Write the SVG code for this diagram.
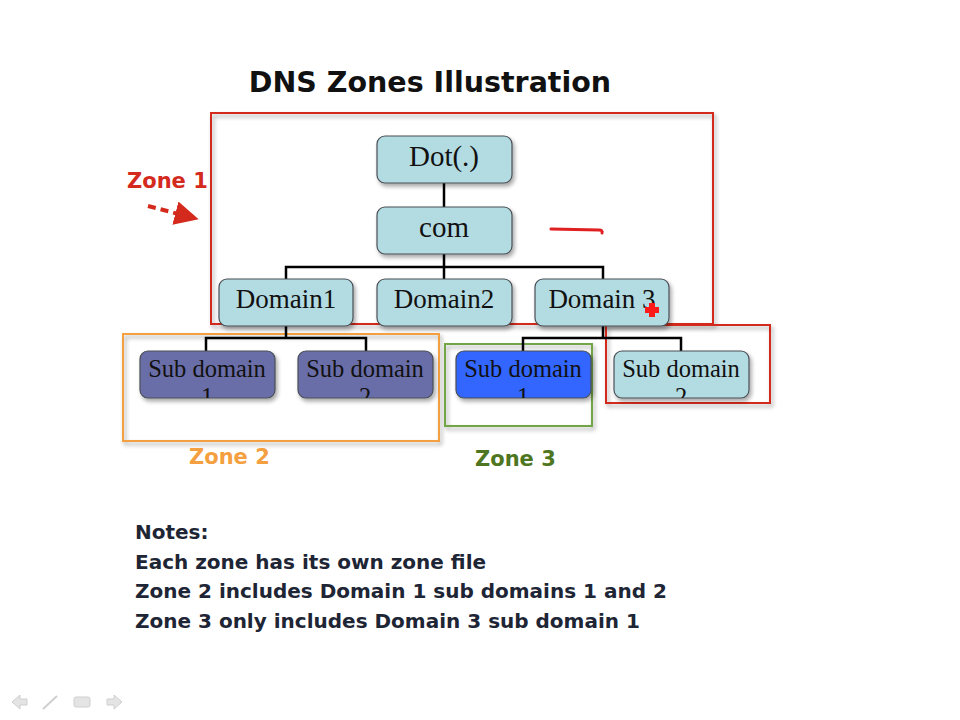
<svg xmlns="http://www.w3.org/2000/svg" width="960" height="720" viewBox="0 0 960 720">
  <defs>
    <filter id="shadow" x="-10%" y="-10%" width="130%" height="140%">
      <feGaussianBlur in="SourceAlpha" stdDeviation="2"/>
      <feOffset dx="2" dy="3" result="b"/>
      <feComponentTransfer><feFuncA type="linear" slope="0.35"/></feComponentTransfer>
      <feMerge><feMergeNode/><feMergeNode in="SourceGraphic"/></feMerge>
    </filter>
    <marker id="arrowRed" viewBox="0 0 10 10" refX="8" refY="5" markerWidth="6" markerHeight="6" orient="auto">
      <path d="M0,0 L10,5 L0,10 z" fill="#d42a1e"/>
    </marker>
    <clipPath id="clipSd1a"><rect x="140" y="351" width="135" height="47"/></clipPath>
    <clipPath id="clipSd2a"><rect x="298" y="351" width="135" height="47"/></clipPath>
    <clipPath id="clipSd1b"><rect x="456" y="351" width="135" height="47"/></clipPath>
    <clipPath id="clipSd2b"><rect x="614" y="351" width="135" height="47"/></clipPath>
    <style>
      .node { stroke: #4a4f55; stroke-width: 1.2; filter: url(#shadow); }
      .teal { fill: #b3dbe2; }
      .purple { fill: #6a6ea8; }
      .blue { fill: #3366ff; }
      .label { font-family: "Liberation Serif", "Times New Roman", serif; fill: #111; text-anchor: middle; }
      .big { font-size: 27px; }
      .small { font-size: 24.5px; }
      .wire { stroke: #000; stroke-width: 2.5; fill: none; }
      .zone { fill: none; stroke-width: 2; filter: url(#shadow); }
      .zlabel { font-family: "DejaVu Sans", Verdana, sans-serif; font-weight: bold; font-size: 21px; }
      .notes { font-family: "DejaVu Sans", Verdana, sans-serif; font-weight: bold; font-size: 20px; fill: #1e2535; }
    </style>
  </defs>

  <rect width="960" height="720" fill="#ffffff"/>

  <text x="430" y="92" text-anchor="middle" font-family="DejaVu Sans, Verdana, sans-serif" font-weight="bold" font-size="28.5" fill="#111">DNS Zones Illustration</text>

  <!-- zone outlines -->
  <g id="zones">
    <rect id="zone1" class="zone" x="211" y="113" width="502" height="211" stroke="#d42a1e"/>
    <rect id="zone2" class="zone" x="123" y="334" width="316" height="107" stroke="#f5a040"/>
    <rect id="zone3" class="zone" x="445" y="344" width="147" height="82" stroke="#72a545"/>
    <rect id="zone4" class="zone" x="606" y="325" width="164" height="78" stroke="#d42a1e"/>
  </g>

  <!-- tree connectors -->
  <g id="connectors">
    <path class="wire" d="M444,183 V207"/>
    <path class="wire" d="M444,254 V279 M286,279 V267 H603 V279"/>
    <path class="wire" d="M286,326 V338 M206,351 V338 H366 V351"/>
    <path class="wire" d="M603,326 V338 M523,351 V338 H681 V351"/>
  </g>

  <g id="dot">
    <rect class="node teal" x="377" y="136" width="135" height="47" rx="8"/>
    <text class="label" font-size="29" x="444" y="166">Dot(.)</text>
  </g>
  <g id="com">
    <rect class="node teal" x="377" y="207" width="135" height="47" rx="8"/>
    <text class="label" font-size="29" x="444" y="237">com</text>
  </g>
  <g id="domain1">
    <rect class="node teal" x="219" y="279" width="134" height="47" rx="8"/>
    <text class="label big" x="286" y="308">Domain1</text>
  </g>
  <g id="domain2">
    <rect class="node teal" x="377" y="279" width="135" height="47" rx="8"/>
    <text class="label big" x="444" y="308">Domain2</text>
  </g>
  <g id="domain3">
    <rect class="node teal" x="535" y="279" width="134" height="47" rx="8"/>
    <text class="label big" x="602" y="308">Domain 3</text>
  </g>

  <g id="sub1-domain1">
    <rect class="node purple" x="140" y="351" width="135" height="47" rx="8"/>
    <g clip-path="url(#clipSd1a)">
      <text class="label small" x="207" y="377">Sub domain</text>
      <text class="label small" x="207" y="405">1</text>
    </g>
  </g>
  <g id="sub2-domain1">
    <rect class="node purple" x="298" y="351" width="135" height="47" rx="8"/>
    <g clip-path="url(#clipSd2a)">
      <text class="label small" x="365" y="377">Sub domain</text>
      <text class="label small" x="365" y="405">2</text>
    </g>
  </g>
  <g id="sub1-domain3">
    <rect class="node blue" x="456" y="351" width="135" height="47" rx="8"/>
    <g clip-path="url(#clipSd1b)">
      <text class="label small" x="523" y="377">Sub domain</text>
      <text class="label small" x="523" y="405">1</text>
    </g>
  </g>
  <g id="sub2-domain3">
    <rect class="node teal" x="614" y="351" width="135" height="47" rx="8"/>
    <g clip-path="url(#clipSd2b)">
      <text class="label small" x="681" y="377">Sub domain</text>
      <text class="label small" x="681" y="405">2</text>
    </g>
  </g>

  <!-- zone labels -->
  <text class="zlabel" x="127" y="188" fill="#d42a1e">Zone 1</text>
  <path d="M148,206 L194,218" stroke="#d42a1e" stroke-width="4" stroke-dasharray="8,5" fill="none" marker-end="url(#arrowRed)"/>
  <text class="zlabel" x="189" y="464" fill="#f5a040">Zone 2</text>
  <text class="zlabel" x="475" y="466" fill="#4e7520">Zone 3</text>

  <!-- pen marks -->
  <path d="M551,229 L599,230 Q603,230 602,233" stroke="#e02020" stroke-width="3" fill="none" stroke-linecap="round"/>
  <path d="M649,303 h6 v4 h4 v6 h-4 v4 h-6 v-4 h-4 v-6 h4 z" fill="#ff1a1a"/>

  <!-- notes -->
  <text class="notes" x="135" y="539" font-size="21">Notes:</text>
  <text class="notes" x="135" y="569">Each zone has its own zone file</text>
  <text class="notes" x="135" y="598">Zone 2 includes Domain 1 sub domains 1 and 2</text>
  <text class="notes" x="135" y="628">Zone 3 only includes Domain 3 sub domain 1</text>

  <!-- slide navigation -->
  <g id="nav" fill="#e4e4e4" stroke="#cfcfcf" stroke-width="1">
    <path d="M12,702 L20,695 V699 H27 V705 H20 V709 z"/>
    <path d="M43,709 L57,696" stroke-width="2"/>
    <rect x="74" y="697" width="16" height="10" rx="2"/>
    <path d="M122,702 L114,695 V699 H107 V705 H114 V709 z"/>
  </g>
</svg>
